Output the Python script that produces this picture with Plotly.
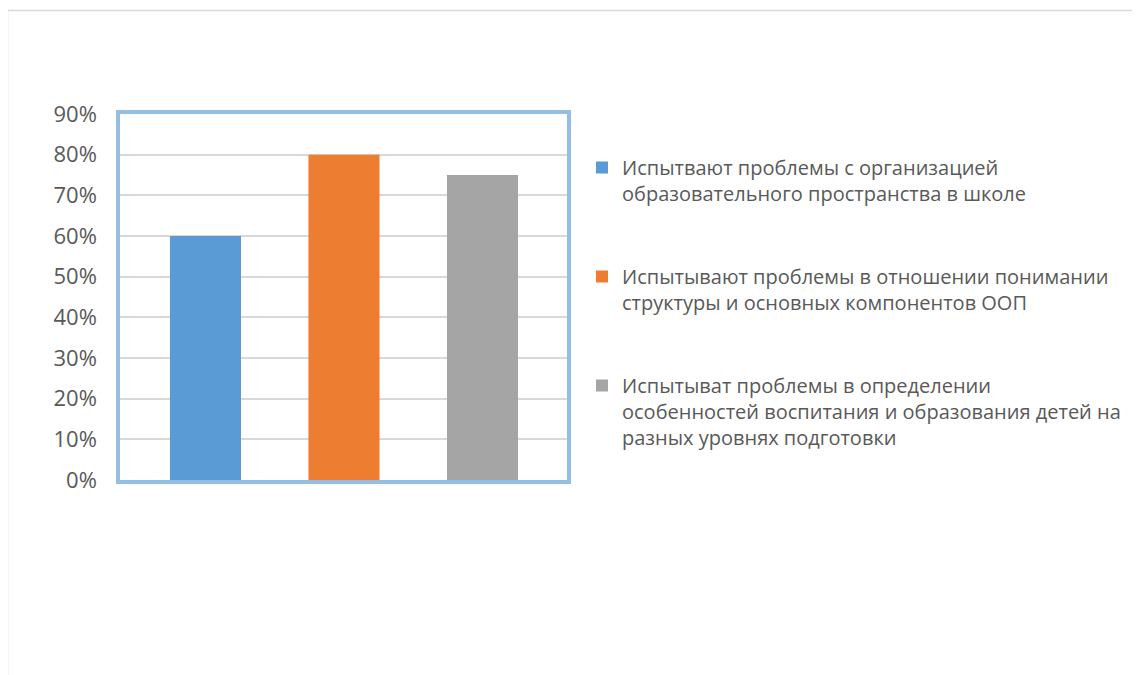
import plotly.graph_objects as go

series_names = [
    "Испытвают проблемы с организацией<br>образовательного пространства в школе",
    "Испытывают проблемы в отношении понимании<br>структуры и основных компонентов ООП",
    "Испытыват проблемы в определении<br>особенностей воспитания и образования детей на<br>разных уровнях подготовки",
]
values = [0.60, 0.80, 0.75]
colors = ["#5b9bd5", "#ed7d31", "#a5a5a5"]
positions = [0, 1, 2]

FONT = "Open Sans"

fig = go.Figure()
for i, (name, v, c) in enumerate(zip(series_names, values, colors)):
    fig.add_trace(go.Bar(
        x=[positions[i]], y=[v], name=name, marker_color=c,
        marker_line_width=0, width=0.513, legendgroup=f"g{i}",
        hoverinfo="skip",
    ))

# page body adds an 8px offset; coordinates below are in figure pixels
OFF = 8
W, H = 1140, 675
L, R, T, B = 120 - OFF, 567 - OFF, 114 - OFF, 480 - OFF

fig.update_layout(
    width=W, height=H,
    margin=dict(l=L, r=W - R, t=T, b=H - B, pad=0),
    barmode="overlay",
    plot_bgcolor="white", paper_bgcolor="white",
    font=dict(family=FONT, color="#595959", size=20),
    showlegend=True,
    legend=dict(
        xref="container", yref="container",
        x=(582 - OFF) / W, y=1 - (148 - OFF) / H, xanchor="left", yanchor="top",
        valign="top", tracegroupgap=54,
        font=dict(family=FONT, size=20, color="#595959"),
        bgcolor="rgba(0,0,0,0)",
    ),
    xaxis=dict(
        range=[-0.617, 2.61], showticklabels=False, showgrid=False,
        zeroline=False, showline=True, mirror=True,
        linecolor="#95bee5", linewidth=3.5, fixedrange=True,
    ),
    yaxis=dict(
        range=[0, 0.9], dtick=0.1, tick0=0, tickformat=".0%",
        showgrid=True, gridcolor="#d9d9d9", gridwidth=1.5,
        zeroline=False, showline=True, mirror=True,
        linecolor="#95bee5", linewidth=3.5, ticklabelstandoff=15,
        tickfont=dict(family=FONT, size=22, color="#595959"),
    ),
)

# outer chart frame
fig.add_shape(
    type="rect", xref="paper", yref="paper",
    x0=(7.5 - OFF - L) / (R - L), x1=(W + 20 - L) / (R - L),
    y0=(B - (H + 20)) / (B - T), y1=(B - (10.5 - OFF)) / (B - T),
    line=dict(color="#d9d9d9", width=1.5), fillcolor="rgba(0,0,0,0)",
    layer="below",
)

fig.write_html("out.html")
